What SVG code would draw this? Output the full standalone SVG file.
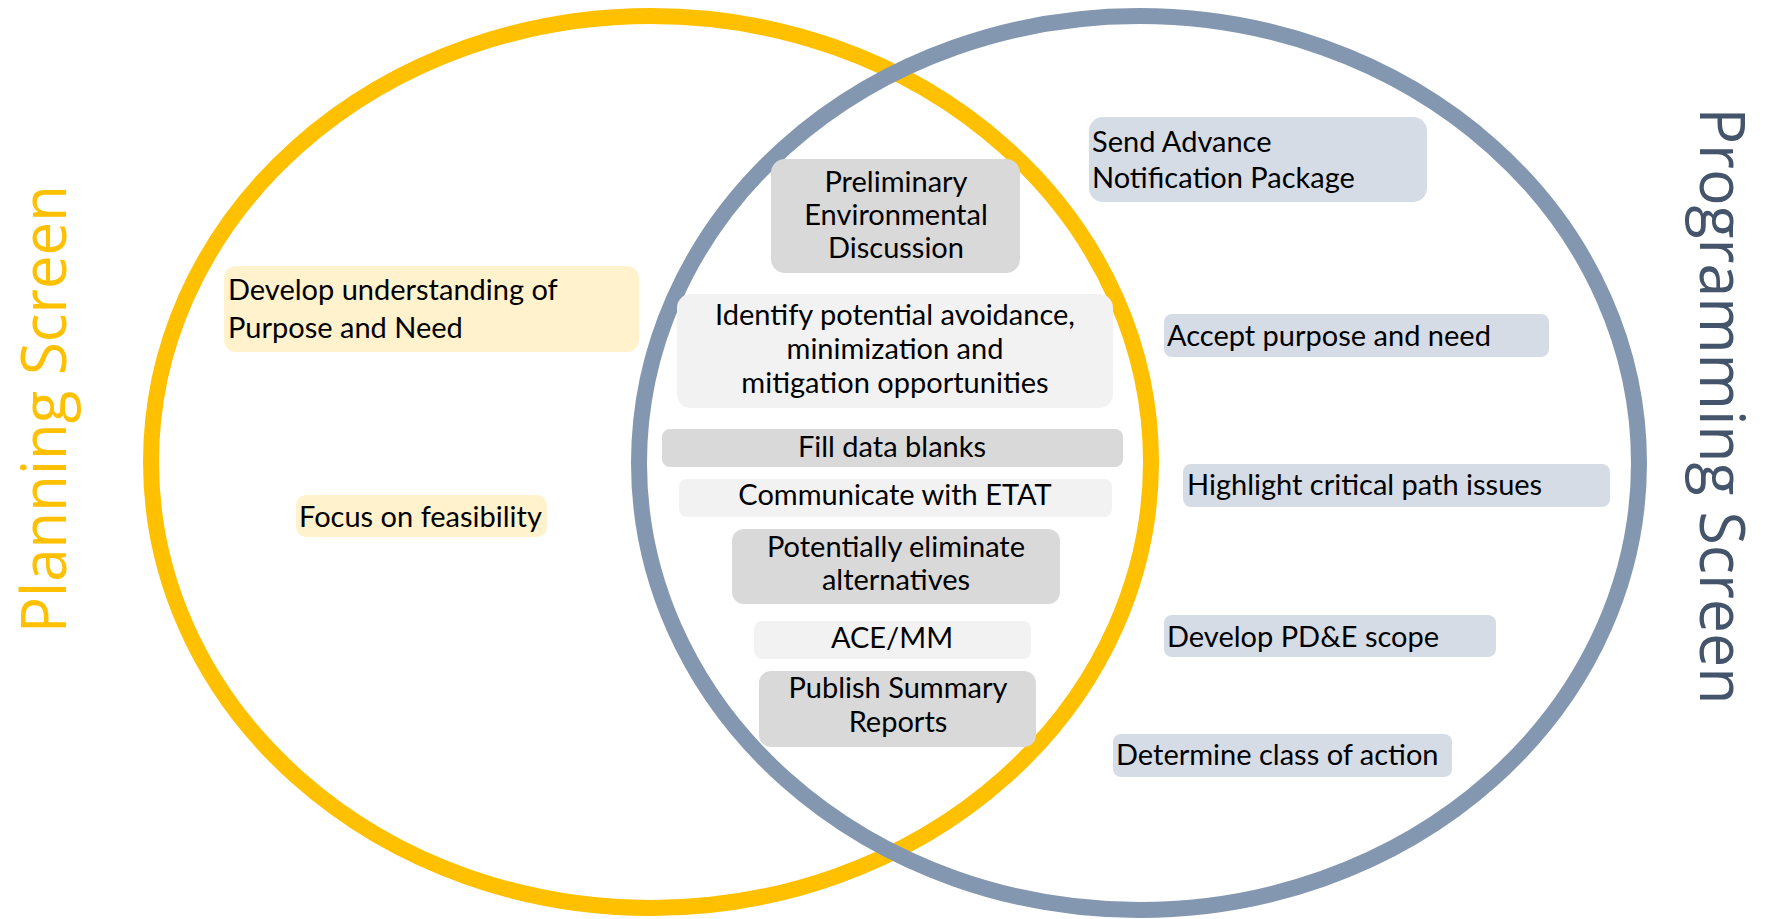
<svg xmlns="http://www.w3.org/2000/svg" width="1766" height="919" viewBox="0 0 1766 919">
<style>
.ring{fill:none;stroke-width:16}
.t{font-family:Lato,"Liberation Sans",sans-serif;font-size:29px;fill:#000}
.c{text-anchor:middle}
.g1{fill:#D9D9D9}
.g2{fill:#F2F2F2}
.y{fill:#FFF2CC}
.b{fill:#D6DCE5}
.big{font-family:"Open Sans","Liberation Sans",sans-serif;font-size:62px;text-anchor:middle}
</style>
<rect width="1766" height="919" fill="#fff"/>
<g id="rings">
<ellipse id="planning-ring" class="ring" cx="651" cy="462" rx="500" ry="446" stroke="#FFC000"/>
<ellipse id="programming-ring" class="ring" cx="1139" cy="463" rx="500" ry="447" stroke="#8497B0"/>
</g>
<g id="label-planning"><text class="big" fill="#FFC000" transform="translate(66,409) rotate(-90)" textLength="448" lengthAdjust="spacingAndGlyphs">Planning Screen</text></g>
<g id="label-programming"><text class="big" fill="#44546A" transform="translate(1700,406) rotate(90)" textLength="597" lengthAdjust="spacingAndGlyphs">Programming Screen</text></g>
<g id="connectors"/>
<g id="n-develop"><rect class="y" x="224" y="266" width="415" height="86" rx="12"/><text class="t" x="228" y="300">Develop understanding of</text><text class="t" x="228" y="338">Purpose and Need</text></g>
<g id="n-focus"><rect class="y" x="296" y="495" width="251" height="42" rx="10"/><text class="t" x="299" y="527">Focus on feasibility</text></g>
<g id="n-prelim"><rect class="g1" x="771" y="159" width="249" height="114" rx="14"/><text class="t c" x="896" y="192">Preliminary</text><text class="t c" x="896" y="225">Environmental</text><text class="t c" x="896" y="258">Discussion</text></g>
<g id="n-identify"><rect class="g2" x="677" y="294" width="436" height="114" rx="14"/><text class="t c" x="895" y="325">Identify potential avoidance,</text><text class="t c" x="895" y="359">minimization and</text><text class="t c" x="895" y="393">mitigation opportunities</text></g>
<g id="n-fill"><rect class="g1" x="662" y="429" width="461" height="38" rx="8"/><text class="t c" x="892" y="457">Fill data blanks</text></g>
<g id="n-communicate"><rect class="g2" x="679" y="479" width="433" height="38" rx="8"/><text class="t c" x="895" y="505">Communicate with ETAT</text></g>
<g id="n-eliminate"><rect class="g1" x="732" y="529" width="328" height="75" rx="12"/><text class="t c" x="896" y="557">Potentially eliminate</text><text class="t c" x="896" y="590">alternatives</text></g>
<g id="n-acemm"><rect class="g2" x="754" y="621" width="277" height="38" rx="8"/><text class="t c" x="892" y="648">ACE/MM</text></g>
<g id="n-publish"><rect class="g1" x="759" y="671" width="277" height="76" rx="12"/><text class="t c" x="898" y="698">Publish Summary</text><text class="t c" x="898" y="732">Reports</text></g>
<g id="n-send"><rect class="b" x="1089" y="117" width="338" height="85" rx="14"/><text class="t" x="1092" y="152">Send Advance</text><text class="t" x="1092" y="188">Notification Package</text></g>
<g id="n-accept"><rect class="b" x="1164" y="314" width="385" height="43" rx="8"/><text class="t" x="1167" y="346">Accept purpose and need</text></g>
<g id="n-highlight"><rect class="b" x="1183" y="464" width="427" height="43" rx="8"/><text class="t" x="1187" y="495">Highlight critical path issues</text></g>
<g id="n-pde"><rect class="b" x="1164" y="615" width="332" height="42" rx="8"/><text class="t" x="1167" y="647">Develop PD&amp;E scope</text></g>
<g id="n-class"><rect class="b" x="1113" y="734" width="339" height="43" rx="8"/><text class="t" x="1116" y="765">Determine class of action</text></g>
</svg>
